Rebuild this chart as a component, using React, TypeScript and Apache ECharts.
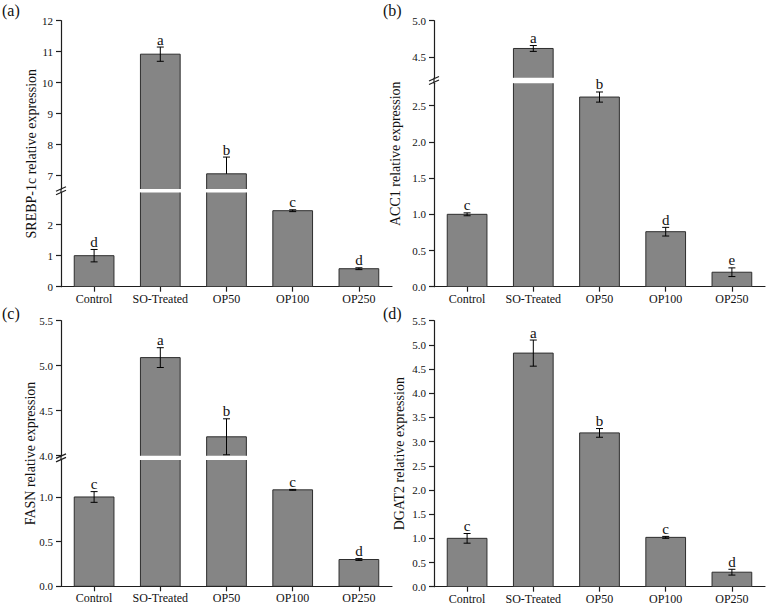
import React, { useEffect, useRef } from 'react';
import * as echarts from 'echarts';

// Treatment groups shared by all four panels
const categories = ['Control', 'SO-Treated', 'OP50', 'OP100', 'OP250'];

// (a) SREBP-1c
const srebpMean = [1.0, 10.92, 7.06, 2.45, 0.58];
const srebpSd = [0.2, 0.23, 0.54, 0.03, 0.03];
const srebpLetters = ['d', 'a', 'b', 'c', 'd'];
const srebpLowerTicks = [0, 1, 2];
const srebpUpperTicks = [7, 8, 9, 10, 11, 12];

// (b) ACC1
const acc1Mean = [1.0, 4.62, 2.62, 0.76, 0.2];
const acc1Sd = [0.02, 0.04, 0.07, 0.06, 0.06];
const acc1Letters = ['c', 'a', 'b', 'd', 'e'];
const acc1LowerTicks = [0, 0.5, 1.0, 1.5, 2.0, 2.5];
const acc1UpperTicks = [4.5, 5.0];

// (c) FASN
const fasnMean = [1.0, 5.09, 4.21, 1.08, 0.3];
const fasnSd = [0.06, 0.11, 0.2, 0.005, 0.01];
const fasnLetters = ['c', 'a', 'b', 'c', 'd'];
const fasnLowerTicks = [0, 0.5, 1.0];
const fasnUpperTicks = [4.0, 4.5, 5.0, 5.5];

// (d) DGAT2
const dgat2Mean = [1.0, 4.83, 3.18, 1.02, 0.3];
const dgat2Sd = [0.1, 0.27, 0.09, 0.02, 0.06];
const dgat2Letters = ['c', 'a', 'b', 'c', 'd'];
const dgat2Ticks = [0, 0.5, 1.0, 1.5, 2.0, 2.5, 3.0, 3.5, 4.0, 4.5, 5.0, 5.5];

const FONT = "'Liberation Serif', 'Times New Roman', serif";
const INK = '#111111';
const AXIS = '#1e1e1e';
const BAR_FILL = '#858585';
const BAR_EDGE = '#2e2e2e';

type Seg = { top: number; height: number; min: number; max: number; ticks: number[] };
type Panel = {
  tag: string;
  tagX: number;
  tagY: number;
  title: string;
  titleX: number;
  left: number;
  width: number;
  decimals: number;
  means: number[];
  sds: number[];
  letters: string[];
  segs: Seg[]; // bottom segment first, then the segment above the axis break
};

const panels: Panel[] = [
  {
    tag: '(a)', tagX: 2, tagY: 10, title: 'SREBP-1c relative expression', titleX: 31.5,
    left: 61, width: 331, decimals: 0,
    means: srebpMean, sds: srebpSd, letters: srebpLetters,
    segs: [
      { top: 192.4, height: 94.3, min: 0, max: 3.04, ticks: srebpLowerTicks },
      { top: 20.7, height: 168.3, min: 6.57, max: 12, ticks: srebpUpperTicks },
    ],
  },
  {
    tag: '(b)', tagX: 383, tagY: 10, title: 'ACC1 relative expression', titleX: 395,
    left: 434, width: 331, decimals: 1,
    means: acc1Mean, sds: acc1Sd, letters: acc1Letters,
    segs: [
      { top: 83.3, height: 203.4, min: 0, max: 2.81, ticks: acc1LowerTicks },
      { top: 20.7, height: 57, min: 4.22, max: 5.0, ticks: acc1UpperTicks },
    ],
  },
  {
    tag: '(c)', tagX: 2, tagY: 313, title: 'FASN relative expression', titleX: 30,
    left: 61, width: 331, decimals: 1,
    means: fasnMean, sds: fasnSd, letters: fasnLetters,
    segs: [
      { top: 460, height: 126.3, min: 0, max: 1.414, ticks: fasnLowerTicks },
      { top: 320.7, height: 135, min: 4.0, max: 5.5, ticks: fasnUpperTicks },
    ],
  },
  {
    tag: '(d)', tagX: 383, tagY: 313, title: 'DGAT2 relative expression', titleX: 399,
    left: 434, width: 331, decimals: 1,
    means: dgat2Mean, sds: dgat2Sd, letters: dgat2Letters,
    segs: [{ top: 320.7, height: 266, min: 0, max: 5.5, ticks: dgat2Ticks }],
  },
];

// index of the axis segment that holds a given value
function segIndexOf(p: Panel, v: number): number {
  for (let k = 0; k < p.segs.length; k++) {
    if (v <= p.segs[k].max) return k;
  }
  return p.segs.length - 1;
}

function buildOption() {
  const grid: any[] = [];
  const xAxis: any[] = [];
  const yAxis: any[] = [];
  const series: any[] = [];
  const graphic: any[] = [];

  panels.forEach((p) => {
    p.segs.forEach((s, k) => {
      const idx = grid.length;
      const isBase = k === 0;
      grid.push({
        left: p.left,
        top: s.top,
        width: p.width,
        height: s.height,
        containLabel: false,
        outerBoundsMode: 'none',
      });
      xAxis.push({
        type: 'category',
        gridIndex: idx,
        data: categories,
        show: isBase,
        boundaryGap: true,
        axisLine: { show: true, onZero: false, lineStyle: { color: AXIS, width: 1.2 } },
        axisTick: { show: true, alignWithLabel: true, length: 5, lineStyle: { color: AXIS, width: 1.2 } },
        axisLabel: { interval: 0, margin: 6, color: INK, fontSize: 12, fontFamily: FONT },
        splitLine: { show: false },
      });
      yAxis.push({
        type: 'value',
        gridIndex: idx,
        min: s.min,
        max: s.max,
        splitLine: { show: false },
        axisLine: { show: true, lineStyle: { color: AXIS, width: 1.2 } },
        axisTick: { show: true, length: 5, customValues: s.ticks, lineStyle: { color: AXIS, width: 1.2 } },
        axisLabel: {
          customValues: s.ticks,
          showMinLabel: true,
          showMaxLabel: true,
          margin: 8,
          color: INK,
          fontSize: 11,
          fontFamily: FONT,
          formatter: (v: number) => Number(v).toFixed(p.decimals),
        },
      });

      const segMin = s.min;
      // bars with their error bars, clipped to this segment
      series.push({
        type: 'custom',
        xAxisIndex: idx,
        yAxisIndex: idx,
        clip: true,
        silent: true,
        data: p.means.map((m, i) => [i, m, p.sds[i]]),
        encode: { x: 0, y: 1 },
        renderItem: (params: any, api: any) => {
          const i = api.value(0);
          const v = api.value(1);
          const e = api.value(2);
          const top = api.coord([i, v]);
          const base = api.coord([i, 0]);
          const bw = api.size([1, 0])[0] * 0.6;
          const x = top[0];
          // a whisker that would reach into the axis break is drawn upward only
          const oneSided = segMin > 0 && v - e < segMin;
          const hi = api.coord([i, v + e]);
          const lo = api.coord([i, oneSided ? v : v - e]);
          const cap = 3.5;
          const ls = { stroke: '#000', lineWidth: 1 };
          const children: any[] = [
            {
              type: 'rect',
              shape: { x: x - bw / 2, y: top[1], width: bw, height: base[1] - top[1] },
              style: { fill: BAR_FILL, stroke: BAR_EDGE, lineWidth: 1 },
            },
            { type: 'line', shape: { x1: x, y1: hi[1], x2: x, y2: lo[1] }, style: ls },
            { type: 'line', shape: { x1: x - cap, y1: hi[1], x2: x + cap, y2: hi[1] }, style: ls },
          ];
          if (!oneSided) {
            children.push({ type: 'line', shape: { x1: x - cap, y1: lo[1], x2: x + cap, y2: lo[1] }, style: ls });
          }
          return { type: 'group', children };
        },
      });

      // significance letters above the error bars
      series.push({
        type: 'custom',
        xAxisIndex: idx,
        yAxisIndex: idx,
        clip: false,
        silent: true,
        data: p.means.map((m, i) => [i, m + p.sds[i], segIndexOf(p, m + p.sds[i]) === k ? 1 : 0]),
        encode: { x: 0, y: 1 },
        renderItem: (params: any, api: any) => {
          if (!api.value(2)) return null;
          const pt = api.coord([api.value(0), api.value(1)]);
          return {
            type: 'text',
            x: pt[0],
            y: pt[1],
            style: {
              text: p.letters[params.dataIndex],
              fill: INK,
              fontSize: 15,
              fontFamily: FONT,
              align: 'center',
              verticalAlign: 'bottom',
              textAlign: 'center',
              textVerticalAlign: 'bottom',
            },
          };
        },
      });
    });

    const lower = p.segs[0];
    const plotTop = p.segs[p.segs.length - 1].top;
    const plotBottom = lower.top + lower.height;

    // rotated axis title, centred on the whole axis
    graphic.push({
      type: 'text',
      x: p.titleX,
      y: (plotTop + plotBottom) / 2,
      rotation: Math.PI / 2,
      style: {
        text: p.title,
        fill: INK,
        fontSize: 14,
        fontFamily: FONT,
        align: 'center',
        verticalAlign: 'middle',
        textAlign: 'center',
        textVerticalAlign: 'middle',
      },
    });
    // panel tag
    graphic.push({
      type: 'text',
      x: p.tagX,
      y: p.tagY,
      style: {
        text: p.tag,
        fill: INK,
        fontSize: 16,
        fontFamily: FONT,
        align: 'left',
        verticalAlign: 'middle',
        textAlign: 'left',
        textVerticalAlign: 'middle',
      },
    });

    // axis break: join the two axis segments and draw the double slash
    if (p.segs.length > 1) {
      const upper = p.segs[1];
      const gapTop = upper.top + upper.height;
      const gapBottom = lower.top;
      const cy = (gapTop + gapBottom) / 2;
      const ax = p.left;
      const ls = { stroke: AXIS, lineWidth: 1.2 };
      graphic.push({ type: 'line', shape: { x1: ax, y1: gapTop, x2: ax, y2: gapBottom }, style: ls });
      graphic.push({ type: 'line', shape: { x1: ax - 5, y1: cy + 0.5, x2: ax + 5, y2: cy - 4 }, style: ls });
      graphic.push({ type: 'line', shape: { x1: ax - 5, y1: cy + 4, x2: ax + 5, y2: cy - 0.5 }, style: ls });
    }
  });

  return {
    animation: false,
    backgroundColor: '#ffffff',
    textStyle: { fontFamily: FONT },
    grid,
    xAxis,
    yAxis,
    series,
    graphic,
  };
}

export default function App() {
  const ref = useRef<HTMLDivElement>(null);

  useEffect(() => {
    if (!ref.current) return;
    const chart = echarts.init(ref.current, undefined, { renderer: 'svg' });
    chart.setOption(buildOption() as any);
    return () => {
      chart.dispose();
    };
  }, []);

  return (
    <div
      ref={ref}
      style={{ position: 'fixed', left: 0, top: 0, width: 767, height: 606, background: '#fff' }}
    />
  );
}
